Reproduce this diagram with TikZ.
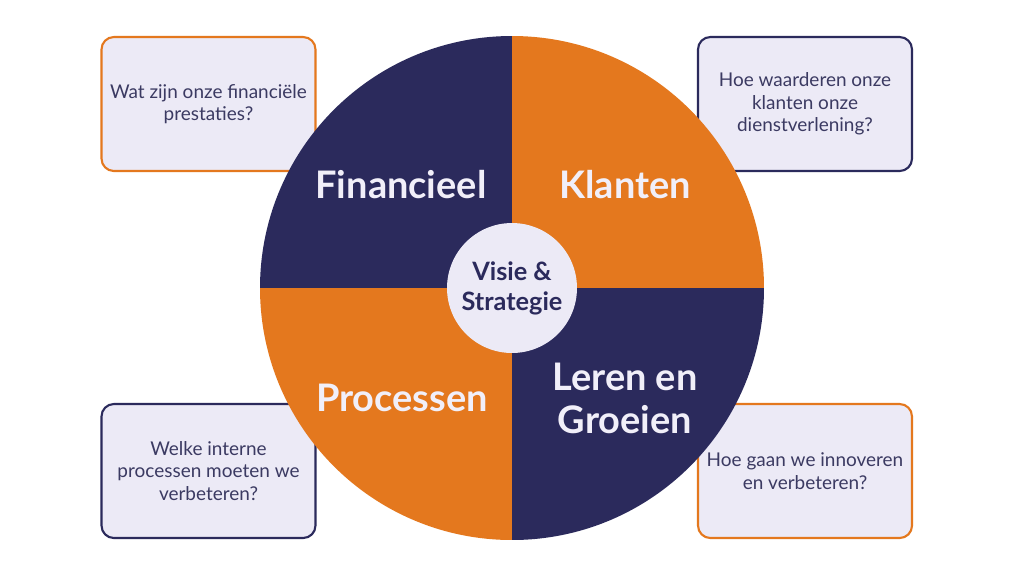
\documentclass[tikz,border=0pt]{standalone}
\usepackage{fontspec}
\setmainfont{Lato}
\definecolor{navy}{HTML}{2B2A5C}
\definecolor{oranje}{HTML}{E4781E}
\definecolor{lila}{HTML}{ECEAF6}
\definecolor{inkt}{HTML}{3B3A62}
\definecolor{wit}{HTML}{F1EFF9}

\begin{document}
\begin{tikzpicture}[x=0.02cm, y=-0.02cm, line join=round,
    vraag/.style={draw, line width=1.2pt, fill=lila, rounded corners=7pt,
        minimum width=4.28cm, minimum height=2.68cm, align=center, text=inkt,
        font=\fontsize{10.8}{12.9}\selectfont},
    veld/.style={align=center, text=wit, font=\bfseries\fontsize{21.6}{24.4}\selectfont}]
    % achtergrond en maten
    \fill[white] (0,0) rectangle (1024,576);
    \useasboundingbox (0,0) rectangle (1024,576);

    % vragen in de hoeken
    \node[vraag, draw=oranje] (vraag-fin) at (208.5,104) {Wat zijn onze financiële\\prestaties?};
    \node[vraag, draw=navy] (vraag-kla) at (805,104) {Hoe waarderen onze\\klanten onze\\dienstverlening?};
    \node[vraag, draw=navy] (vraag-pro) at (208.5,471) {Welke interne\\processen moeten we\\verbeteren?};
    \node[vraag, draw=oranje] (vraag-gro) at (805,471) {Hoe gaan we innoveren\\en verbeteren?};

    % de vier kwadranten
    \begin{scope}
        \clip (512,288) circle (252);
        \fill[navy] (260,36) rectangle (512,288);
        \fill[oranje] (512,36) rectangle (764,288);
        \fill[oranje] (260,288) rectangle (512,540);
        \fill[navy] (512,288) rectangle (764,540);
    \end{scope}

    % namen van de kwadranten
    \node[veld] (financieel) at (401,185) {Financieel};
    \node[veld] (klanten) at (625,185) {Klanten};
    \node[veld] (processen) at (402,398) {Processen};
    \node[veld] (groeien) at (625,398) {Leren en\\Groeien};

    % kern
    \node[circle, fill=lila, minimum size=2.6cm, inner sep=0pt, align=center, text=navy,
        font=\bfseries\fontsize{14.4}{17}\selectfont] (kern) at (512,288) {Visie \&\\Strategie};
\end{tikzpicture}
\end{document}
